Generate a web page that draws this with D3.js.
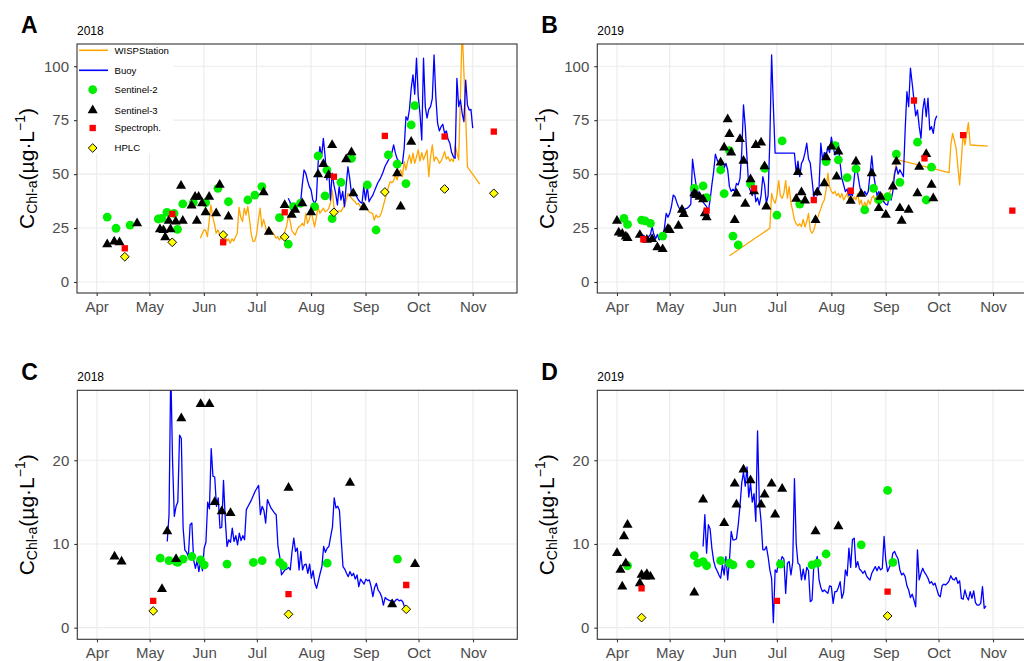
<!DOCTYPE html>
<html><head><meta charset="utf-8">
<script src="https://cdn.jsdelivr.net/npm/d3@7"></script>
<style>body{margin:0;background:#fff}svg{display:block}text{font-family:"Liberation Sans",Arial,Helvetica,sans-serif}</style>
</head><body><svg id="c" width="1024" height="661"></svg>
<script>
// ---------------- DATA ----------------
// Month tick positions and labels
const monthStarts = ["04-01","05-01","06-01","07-01","08-01","09-01","10-01","11-01"];
const yTicksHigh = [0,25,50,75,100];
const yTicksLow = [0,10,20];
const legendLabels = ["WISPStation","Buoy","Sentinel-2","Sentinel-3","Spectroph.","HPLC"];

// Points: [MM-DD, value]
const s2_2018 = [["04-07",30.1],["04-12",24.9],["04-20",26.4],["05-06",29.2],["05-08",29.5],["05-11",32.3],["05-15",31.8],["05-17",24.4],["05-20",36.2],["05-26",36.8],["06-02",36.8],["06-09",43.4],["06-15",37.2],["06-26",38],["06-30",40.3],["07-04",44.2],["07-14",29.8],["07-19",17.5],["07-22",34.9],["07-26",36.5],["08-03",34.9],["08-05",58.4],["08-09",39.9],["08-10",51.9],["08-13",29.4],["08-18",46.2],["08-24",57.3],["09-02",45],["09-07",24.1],["09-14",58.9],["09-19",54.6],["09-24",45.6],["09-27",72.8],["09-29",81.7]];
const s3_2018 = [["04-07",17.5],["04-11",18.7],["04-14",18.4],["04-24",27.2],["05-07",24.4],["05-09",24],["05-10",20.7],["05-12",28.3],["05-13",24.4],["05-16",28],["05-19",44.6],["05-20",28.3],["05-25",35.4],["05-27",39.5],["05-28",28.3],["05-29",39.5],["05-31",36.5],["06-02",32.3],["06-04",39.5],["06-08",31.8],["06-10",45],["06-15",30.3],["07-05",41.6],["07-08",23.3],["07-17",35.7],["07-21",31.1],["07-23",33.4],["07-27",36.5],["08-01",32.3],["08-05",49.9],["08-08",54.7],["08-11",49.6],["08-13",63.5],["08-21",56.9],["08-24",60.1],["08-25",41.1],["08-31",34.6],["09-19",50.4],["09-21",34.9],["09-27",65]];
const spec_2018 = [["04-17",15.6],["05-14",31.5],["06-12",18.4],["07-17",32.3],["08-14",48.8],["09-12",67.7],["10-16",67.4],["11-13",69.7]];
const hplc_2018 = [["04-17",11.7],["05-14",18.4],["06-12",21.8],["07-17",20.9],["08-14",32.3],["09-12",41.7],["10-16",43.1],["11-13",41.1]];

const s2_2019 = [["04-05",29.5],["04-07",26.7],["04-15",28.7],["04-17",28.3],["04-20",27.2],["04-27",21.3],["05-15",43.4],["05-20",44.5],["05-22",39.1],["05-30",51.9],["06-01",41],["06-04",60.9],["06-06",21.3],["06-09",17.2],["06-16",45.5],["06-24",52.7],["07-01",31],["07-04",65.4],["07-14",36.1],["07-29",55.8],["08-03",63.2],["08-05",56.6],["08-10",48.4],["08-15",52.4],["08-20",33.4],["08-25",43.4],["08-28",38],["09-02",39.5],["09-07",59.3],["09-09",46.2],["09-19",64.8],["09-24",38],["09-27",53.2]];
const s3_2019 = [["04-01",28.4],["04-02",22.9],["04-04",22.3],["04-06",21],["04-07",20.3],["04-14",21.8],["04-18",19.5],["04-21",19.9],["04-24",16.1],["04-27",15.2],["04-30",24.6],["05-01",24.1],["05-06",26],["05-08",33.4],["05-09",31.5],["05-15",41.1],["05-16",40.3],["05-18",39.5],["05-20",38.3],["05-21",31.8],["05-22",30],["05-30",55.3],["06-01",62.3],["06-03",75.4],["06-04",68.5],["06-05",60],["06-07",28.7],["06-08",41],["06-10",66.2],["06-12",56.2],["06-13",36.2],["06-16",47.6],["06-18",42],["06-19",63.5],["06-22",64.6],["06-24",53.6],["06-25",35],["07-12",38.5],["07-13",50.9],["07-15",41.6],["07-17",37.7],["07-23",28.7],["07-24",41.6],["07-28",45.7],["07-29",57.8],["08-01",62.7],["08-04",48.8],["08-05",60.4],["08-12",37.6],["08-15",55.8],["08-18",40.8],["08-24",50.4],["08-28",34.2],["08-29",39.5],["09-01",31.1],["09-05",44.2],["09-07",55.8],["09-09",34.2],["09-10",28.4],["09-14",33.4],["09-19",41.1],["09-20",53.4],["09-24",59.3],["09-27",45],["09-28",38.8]];
const spec_2019 = [["04-16",19.8],["05-22",33.1],["06-18",43.4],["07-22",38],["08-12",42.3],["09-17",84.1],["09-23",57.3],["10-15",68.1],["11-12",33.1]];
const hplc_2019 = [];

const s2_C2018 = [["05-07",8.3],["05-12",8],["05-16",7.9],["05-17",7.8],["05-20",8.2],["05-25",8.5],["05-30",8.1],["06-01",7.5],["06-14",7.6],["06-29",7.8],["07-04",8],["07-14",7.8],["07-16",7.4],["08-10",7.7],["09-19",8.2]];
const s3_C2018 = [["04-11",8.5],["04-15",7.9],["05-08",4.6],["05-11",11.5],["05-16",8.2],["05-19",25],["05-30",26.7],["06-04",26.7],["06-07",15],["06-11",13.9],["06-16",13.7],["07-19",16.7],["08-23",17.3],["09-16",2.8],["09-29",7.6]];
const spec_C2018 = [["05-03",3.2],["07-19",4],["09-24",5.1]];
const hplc_C2018 = [["05-03",2],["07-19",1.6],["09-24",2.2]];

const s2_D2019 = [["04-07",7.4],["05-15",8.6],["05-17",7.7],["05-20",7.9],["05-22",7.4],["05-30",8],["06-04",7.7],["06-06",7.5],["06-16",7.6],["07-03",7.6],["07-21",7.5],["07-24",7.7],["07-29",8.8],["08-18",9.9],["09-02",16.4],["09-05",7.8]];
const s3_D2019 = [["04-01",8.9],["04-03",6.9],["04-04",4.9],["04-05",10.9],["04-06",7.7],["04-07",12.3],["04-14",5.3],["04-15",6.3],["04-17",6.1],["04-18",6.4],["04-20",6.1],["05-15",4.2],["05-20",15.3],["06-01",12.5],["06-07",17.2],["06-08",14.7],["06-12",18.9],["06-16",17.6],["06-22",14.7],["06-24",15.9],["06-28",17.2],["06-30",13.5],["07-04",16.6],["07-23",11.5],["08-05",12.1]];
const spec_D2019 = [["04-15",4.7],["07-01",3.2],["09-02",4.3]];
const hplc_D2019 = [["04-15",1.2],["09-02",1.4]];

// Lines: [days after 1 April, value]
const wisp_2018 = [[59,20.3],[61,24.1],[62,24],[63,21],[64,28],[65,35.7],[66,30.3],[67,27],[68,22.6],[69,24.1],[70,22],[71,20.3],[72,22],[73,21.8],[74,19],[75,20],[76,18],[77,20],[78,19],[79,21],[80,22.6],[81,34.6],[82,30],[83,28],[84,34.2],[85,31],[86,35],[87,28.7],[88,22],[89,18.7],[90,19],[91,22],[92,28.7],[93,34.2],[94,25.6],[95,29],[96,26],[97,21.8],[98,25.6],[99,24],[100,23],[101,22],[102,20.3],[103,21],[104,19.5],[105,21],[106,21],[107,23.3],[108,25.6],[109,30.3],[110,28.7],[111,24],[112,22.6],[113,21.8],[114,24.1],[115,25.6],[116,26],[117,27.2],[118,26],[119,31.8],[120,27.2],[121,29],[122,32.6],[123,29.5],[124,25.6],[125,30],[126,34.9],[127,31.8],[128,33],[129,34.2],[130,32.6],[131,33],[132,34],[133,36.5],[134,42.7],[135,34.9],[136,33],[137,32.6],[138,33],[139,32.6],[140,34.2],[141,35],[142,38],[143,41.1],[144,40],[145,38.8],[146,38],[147,37.2],[148,36],[149,36.5],[150,35],[151,34.9],[152,35.5],[153,34.9],[154,33.5],[155,32.6],[156,32],[157,31.8],[158,28.7],[159,31.1],[160,30],[161,30.3],[162,32],[163,34.9],[164,38],[165,41.1],[166,44],[167,46.5],[168,46],[169,47],[170,49.6],[171,47.3],[172,51],[173,51.9],[174,48.8],[175,55.8],[176,52],[177,56],[178,58.9],[179,55],[180,59.7],[181,55],[182,58],[183,61.2],[184,56],[185,60],[186,56.6],[187,59],[188,61.2],[189,48.8],[190,58],[191,63.5],[192,56],[193,58],[194,57],[195,55],[196,56],[197,58],[198,60.4],[199,57],[200,58],[201,56],[202,57],[203,55.8],[204,63.5],[205,60],[206,56.6],[207,85.9],[208,118],[209,96.8],[210,76.6],[211,53.4],[218,45.4]];
const buoy_2018 = [[109,38.8],[110,37.2],[111,33],[112,32.6],[113,34.9],[114,35.7],[115,35],[116,36.5],[117,45],[118,51.9],[119,50.4],[120,47],[121,44.2],[122,42.7],[123,38],[124,36.5],[125,38],[126,55],[127,62.7],[128,58],[129,66.6],[130,58.1],[131,47.3],[132,53.4],[133,38],[134,50.4],[135,45],[136,41.1],[137,35.7],[138,44.2],[139,38],[140,42],[141,34.9],[142,45],[143,53.4],[144,48],[145,41.1],[146,40],[147,41],[148,39.5],[149,38],[150,37],[151,36.5],[152,44.2],[153,38],[154,44.2],[155,37.2],[156,38.8],[157,40],[158,42],[159,44],[160,46],[161,47.3],[162,49],[163,51],[164,53.4],[165,55],[166,56.5],[167,58.1],[168,60],[169,63.5],[170,59.7],[171,57],[172,56],[173,55],[174,55],[175,62],[176,76.6],[177,75],[178,80],[179,89.8],[180,96],[181,87],[182,103.7],[183,85.9],[184,78],[185,65.8],[186,103.7],[187,81.3],[188,76],[189,80],[190,81.3],[191,85],[192,105.2],[193,85.9],[194,73.6],[195,70],[196,72],[197,73.1],[198,68.9],[199,70],[200,66],[201,64.3],[202,60],[203,58],[204,57.3],[205,94.4],[206,81.3],[207,84.4],[208,78.2],[209,74.3],[210,93.6],[211,82],[212,79.7],[213,80],[214,71.3]];
const wisp_2019 = [[64,12.2],[87,24.9],[88,41.1],[89,38],[90,36.5],[91,40],[92,47],[93,40],[94,38.8],[95,41.1],[96,47],[97,38.8],[98,44.2],[99,36.5],[100,33],[101,28.7],[102,27],[103,26],[104,27],[105,25.6],[106,29],[107,25.6],[108,28],[109,31.8],[110,24],[111,22.6],[112,24],[113,27],[114,29],[115,31.8],[116,34],[117,36.5],[118,38],[119,42.7],[120,50.4],[121,44.2],[122,42],[123,41],[124,42],[125,40],[126,41.1],[127,39],[128,41],[129,38],[130,39.5],[131,41],[132,38],[133,40],[134,37],[135,39.5],[136,38],[137,41],[138,36],[139,38],[140,34.2],[141,37],[142,35],[143,38],[144,36],[145,39],[146,40],[147,37],[148,40],[149,38],[150,39],[151,41],[152,37],[153,40],[154,38],[155,41],[156,43],[157,45.7],[158,51.1],[159,55],[160,56.6],[189,50.7],[190,63.5],[191,68.9],[193,62],[195,45],[197,68.9],[198,63.5],[200,73.9],[201,63.5],[211,63]];
const buoy_2019 = [[15,21.8],[17,20],[19,22],[20,25.6],[21,22],[22,20],[23,22],[24,19.5],[25,20],[26,21],[27,25],[28,31.8],[29,30],[30,31.8],[31,35],[32,40.3],[33,39.5],[34,37],[35,34.9],[36,33.4],[37,34],[38,33],[39,34],[40,34.2],[41,35],[42,36],[43,56.9],[44,50.4],[45,45],[46,42],[47,40],[48,38],[49,37],[50,36],[51,34.9],[52,33],[53,38],[54,45],[55,51.1],[56,59.2],[57,56.6],[58,55],[59,54],[60,53.4],[61,53],[62,55],[63,52],[64,44.2],[65,42],[66,43],[67,42],[68,45.7],[69,45],[70,48],[71,60],[72,82.1],[73,72],[74,57.3],[75,44.2],[76,42],[77,40],[78,45],[79,37.2],[80,39],[81,35.7],[82,40],[83,48.8],[84,45],[85,36.5],[86,40],[87,65.8],[88,105.2],[89,81.3],[90,59.7],[101,59.7],[102,50.4],[103,56],[104,48.8],[105,55],[106,56.6],[107,60],[108,64.3],[109,57],[110,55],[111,47.3],[112,39.5],[113,42],[114,40],[115,44.2],[116,64.3],[117,56.6],[118,60],[119,58],[120,62.7],[121,60],[122,67.1],[123,62.7],[124,58.9],[125,60],[126,64.3],[127,55],[128,48],[129,45],[130,41.9],[131,43],[132,40],[133,41],[134,40],[135,48],[136,55.8],[137,50],[138,45],[139,41],[140,40],[141,42],[142,40.3],[143,42],[144,50],[145,58.4],[146,50],[147,45],[148,40],[149,42],[150,39],[151,38],[152,37],[153,36],[154,35.7],[155,40],[156,38],[157,42],[158,50],[159,53.4],[160,50],[161,52],[162,50.4],[163,48.8],[164,70.5],[165,88.2],[166,81.3],[167,99.1],[168,92],[169,84.4],[170,77],[171,79.7],[172,72],[173,66.6],[174,79.7],[175,85],[176,76.6],[177,85.2],[178,70.5],[179,72],[180,68.9],[181,75],[182,77]];
const buoy_C2018 = [[40,10.3],[41,13.5],[42,31],[43,20],[44,13.3],[45,14.5],[46,15],[47,23],[48,22.6],[49,12],[50,9.3],[51,9],[52,8.5],[53,12.3],[54,12.5],[55,8.1],[56,7.1],[57,8],[58,6.7],[59,8],[60,6.8],[61,9.5],[62,10.2],[63,15],[64,14.2],[65,21.4],[66,18.1],[67,18],[68,14.5],[69,15.5],[70,11.9],[71,12],[72,17.6],[73,13],[74,9.7],[75,10.5],[76,10.2],[77,11.9],[78,10.3],[79,11],[80,9.9],[81,11.3],[82,10.4],[83,11],[84,10.5],[85,14.1],[86,14.5],[88,15.3],[90,16.3],[92,17],[93,13.5],[94,14.5],[95,14],[96,12.5],[97,15.3],[98,14.8],[99,14.3],[100,14],[101,13.7],[102,13.5],[103,9.7],[104,8.5],[105,6.3],[106,6.6],[107,6.9],[108,7],[109,7.2],[110,6.9],[111,9.1],[112,10.7],[113,9.1],[114,9.5],[115,6.9],[116,9.1],[117,6.9],[118,7.5],[119,7.6],[120,6.5],[121,7.6],[122,5.9],[123,6.8],[124,5.3],[125,4.7],[126,5.6],[127,6.5],[128,7.3],[129,9.7],[130,9],[131,9.5],[132,9.7],[133,10.9],[134,12],[135,15.5],[136,14.3],[137,14.5],[138,14],[139,10.5],[140,7.3],[141,7],[142,6.5],[143,6.1],[144,6.7],[145,6.2],[146,6.5],[147,5.8],[148,6.3],[149,4.9],[150,5.8],[151,5.5],[152,5.2],[153,5.8],[154,5.6],[155,5.7],[156,4.9],[157,3.7],[158,4.8],[159,5.3],[160,4.5],[161,4.2],[162,3.7],[163,2.7],[164,3.6],[165,3.4],[166,3.3],[167,3.2],[168,3.3],[169,3],[170,3.3],[171,3.4],[172,3.2],[173,3.3],[174,3.1],[175,2.5]];
const buoy_D2019 = [[49,9.7],[50,13.5],[51,8.9],[52,12.3],[53,11.8],[54,9.5],[55,8],[56,7.2],[57,6.8],[58,6.3],[59,5.9],[60,7.5],[61,6.3],[62,8.5],[63,5.7],[64,8],[65,11.5],[66,10.5],[67,10.5],[68,10.6],[69,12.3],[70,14.5],[71,17.3],[72,18.6],[73,16.9],[74,19.2],[75,15.6],[76,17.3],[77,15],[78,16],[79,12.7],[80,23.5],[81,14.9],[82,12.7],[83,9.3],[84,9.3],[85,9.7],[86,8.5],[87,6.9],[88,5.9],[89,0.6],[90,6.9],[91,6.6],[92,8.1],[93,7.8],[94,8.5],[95,8.2],[96,4.1],[97,7.7],[98,7.9],[99,6.3],[100,7.8],[101,17.8],[102,10],[103,7.7],[104,7.5],[105,5.7],[106,7],[107,5.7],[108,7.2],[109,6.8],[110,3.1],[111,3.3],[112,7.3],[113,7.8],[114,8.5],[115,5.7],[116,4.8],[117,4.3],[118,4.5],[119,4.3],[120,4.1],[121,5],[122,4.9],[123,2.9],[124,4.3],[125,4.3],[126,4.8],[127,5.5],[128,3.5],[129,4.2],[130,6.9],[131,6.2],[132,9.5],[133,7.2],[134,10.5],[135,10.7],[136,7.2],[137,7.9],[138,7],[139,6.8],[140,6.5],[141,6.8],[142,6.2],[143,5.9],[144,5.7],[145,6.5],[146,6.9],[147,7.3],[148,6.8],[149,7.3],[150,6.9],[151,7.1],[152,10.9],[153,8],[154,6.7],[155,7.2],[156,7.7],[157,8.9],[158,9.1],[159,8.6],[160,8.2],[161,6.9],[162,6.3],[163,6.5],[164,6.1],[165,5],[166,4.5],[167,3.6],[168,4],[169,3.3],[170,2.5],[171,9.3],[172,5.7],[173,6.5],[174,7.1],[175,6.6],[176,6.3],[177,5.9],[178,5.3],[179,5.5],[180,5.1],[181,5.3],[182,4.6],[183,3.9],[184,3.7],[185,5],[186,5.2],[187,5.1],[188,5.3],[189,5.6],[190,6.2],[191,5.8],[192,5.7],[193,6],[194,5.3],[195,5.6],[196,3.5],[197,3.4],[198,4.5],[199,3.7],[200,3.3],[201,4.3],[202,3.5],[203,4.4],[204,3],[205,2.7],[206,2.7],[207,2.9],[208,4.9],[209,2.3],[210,2.6]];

// ---------------- DRAWING ----------------
const svg = d3.select("#c");
const PW = 440, PH = 249;
const COL = {wisp:"#FFA500", buoy:"#0000FF", s2:"#00EE00", s3:"#000000", spec:"#FF0000", hplc:"#FFFF00"};

const panels = [
  {label:"A", year:2018, x:77, y:44, yDomain:[-5.1,110.3], yTicks:yTicksHigh, wisp:wisp_2018, buoy:buoy_2018, s2:s2_2018, s3:s3_2018, spec:spec_2018, hplc:hplc_2018, legend:true},
  {label:"B", year:2019, x:597.3, y:44, yDomain:[-5.1,110.3], yTicks:yTicksHigh, wisp:wisp_2019, buoy:buoy_2019, s2:s2_2019, s3:s3_2019, spec:spec_2019, hplc:hplc_2019},
  {label:"C", year:2018, x:77.3, y:390.3, yDomain:[-1.39,28.36], yTicks:yTicksLow, wisp:null, buoy:buoy_C2018, s2:s2_C2018, s3:s3_C2018, spec:spec_C2018, hplc:hplc_C2018},
  {label:"D", year:2019, x:597.3, y:390.3, yDomain:[-1.39,28.36], yTicks:yTicksLow, wisp:null, buoy:buoy_D2019, s2:s2_D2019, s3:s3_D2019, spec:spec_D2019, hplc:hplc_D2019}
];

const triSym = d3.symbol(d3.symbolTriangle, 44)();
const sqSym = d3.symbol(d3.symbolSquare, 40)();
const diaSym = d3.symbol(d3.symbolSquare, 38)();

panels.forEach(p => {
  const g = svg.append("g").attr("transform", `translate(${p.x},${p.y})`);
  const apr1 = Date.UTC(p.year, 3, 1);
  const day = 864e5;
  const x = d3.scaleUtc().domain([new Date(apr1 - 11.2*day), new Date(apr1 + 239.2*day)]).range([0, PW]);
  const y = d3.scaleLinear().domain(p.yDomain).range([PH, 0]);
  const pd = s => new Date(Date.UTC(p.year, +s.slice(0,2) - 1, +s.slice(3,5)));
  const ld = d => new Date(apr1 + d*day);
  const months = monthStarts.map(pd);

  g.append("rect").attr("width", PW).attr("height", PH).attr("fill", "#fff");
  // grid
  g.append("g").selectAll("line").data(p.yTicks).join("line")
    .attr("x1", 0).attr("x2", PW).attr("y1", d => y(d)).attr("y2", d => y(d))
    .attr("stroke", "#ebebeb").attr("stroke-width", 1.1);
  g.append("g").selectAll("line").data(months).join("line")
    .attr("y1", 0).attr("y2", PH).attr("x1", d => x(d)).attr("x2", d => x(d))
    .attr("stroke", "#ebebeb").attr("stroke-width", 1.1);

  const cid = "clip" + p.label;
  g.append("clipPath").attr("id", cid).append("rect").attr("width", PW).attr("height", PH);
  const pg = g.append("g").attr("clip-path", `url(#${cid})`);
  const line = d3.line().x(d => x(ld(d[0]))).y(d => y(d[1]));
  if (p.wisp) pg.append("path").datum(p.wisp).attr("d", line).attr("fill", "none")
    .attr("stroke", COL.wisp).attr("stroke-width", 1.3).attr("stroke-linejoin", "round");
  if (p.buoy) pg.append("path").datum(p.buoy).attr("d", line).attr("fill", "none")
    .attr("stroke", COL.buoy).attr("stroke-width", 1.3).attr("stroke-linejoin", "round");

  pg.append("g").selectAll("circle").data(p.s2).join("circle")
    .attr("cx", d => x(pd(d[0]))).attr("cy", d => y(d[1])).attr("r", 4.4).attr("fill", COL.s2);
  pg.append("g").selectAll("path").data(p.s3).join("path").attr("d", triSym)
    .attr("transform", d => `translate(${x(pd(d[0]))},${y(d[1])})`).attr("fill", COL.s3);
  pg.append("g").selectAll("path").data(p.spec).join("path").attr("d", sqSym)
    .attr("transform", d => `translate(${x(pd(d[0]))},${y(d[1])})`).attr("fill", COL.spec);
  pg.append("g").selectAll("path").data(p.hplc).join("path").attr("d", diaSym)
    .attr("transform", d => `translate(${x(pd(d[0]))},${y(d[1])}) rotate(45)`)
    .attr("fill", COL.hplc).attr("stroke", "#000").attr("stroke-width", 0.9);

  // legend
  if (p.legend) {
    const lg = g.append("g");
    lg.append("rect").attr("x", 0.5).attr("y", 0.5).attr("width", 96).attr("height", 109).attr("fill", "#fff");
    const rows = [6.3, 26.3, 45.7, 66.3, 84, 104];
    const sx = 15.7;
    lg.append("line").attr("x1", 2).attr("x2", 31).attr("y1", rows[0]).attr("y2", rows[0]).attr("stroke", COL.wisp).attr("stroke-width", 1.6);
    lg.append("line").attr("x1", 2).attr("x2", 31).attr("y1", rows[1]).attr("y2", rows[1]).attr("stroke", COL.buoy).attr("stroke-width", 1.6);
    lg.append("circle").attr("cx", sx).attr("cy", rows[2]).attr("r", 4.4).attr("fill", COL.s2);
    lg.append("path").attr("d", triSym).attr("transform", `translate(${sx},${rows[3]})`).attr("fill", COL.s3);
    lg.append("path").attr("d", sqSym).attr("transform", `translate(${sx},${rows[4]})`).attr("fill", COL.spec);
    lg.append("path").attr("d", diaSym).attr("transform", `translate(${sx},${rows[5]}) rotate(45)`).attr("fill", COL.hplc).attr("stroke", "#000").attr("stroke-width", 0.9);
    lg.selectAll("text").data(legendLabels).join("text")
      .attr("x", 37.5).attr("y", (d, i) => rows[i]).attr("dy", "0.35em")
      .attr("font-size", 9.6).attr("fill", "#000").text(d => d);
  }

  g.append("rect").attr("x", 0).attr("y", 0).attr("width", PW).attr("height", PH)
    .attr("fill", "none").attr("stroke", "#333").attr("stroke-width", 1.1);

  // axes
  const ay = g.append("g").call(d3.axisLeft(y).tickValues(p.yTicks).tickSize(3).tickPadding(5).tickFormat(d3.format("d")));
  const ax = g.append("g").attr("transform", `translate(0,${PH})`)
    .call(d3.axisBottom(x).tickValues(months).tickSize(3).tickPadding(5).tickFormat(d3.utcFormat("%b")));
  [ax, ay].forEach(a => {
    a.select(".domain").remove();
    a.selectAll(".tick line").attr("stroke", "#333").attr("stroke-width", 1.1);
    a.selectAll(".tick text").attr("font-size", 15).attr("fill", "#4d4d4d")
      .attr("font-family", '"Liberation Sans", Arial, sans-serif');
  });

  // year label and panel letter
  svg.append("text").attr("x", p.x).attr("y", p.y - 9).attr("font-size", 12).attr("fill", "#000").text(p.year);
  svg.append("text").attr("x", p.x - 56).attr("y", p.y - 10.7).attr("font-size", 23).attr("font-weight", "bold").attr("fill", "#000").text(p.label);

  // y title: C_Chl-a(µg·L^-1)
  const t = svg.append("text").attr("transform", `translate(${p.x - 43},${p.y + PH/2}) rotate(-90)`)
    .attr("text-anchor", "middle").attr("font-size", 21).attr("fill", "#000");
  t.append("tspan").text("C");
  t.append("tspan").attr("font-size", 14).attr("dy", 3).text("Chl-a");
  t.append("tspan").attr("dy", -3).text("(µg·L");
  t.append("tspan").attr("font-size", 14).attr("dy", -9).text("−1");
  t.append("tspan").attr("dy", 9).text(")");
});
</script></body></html>
